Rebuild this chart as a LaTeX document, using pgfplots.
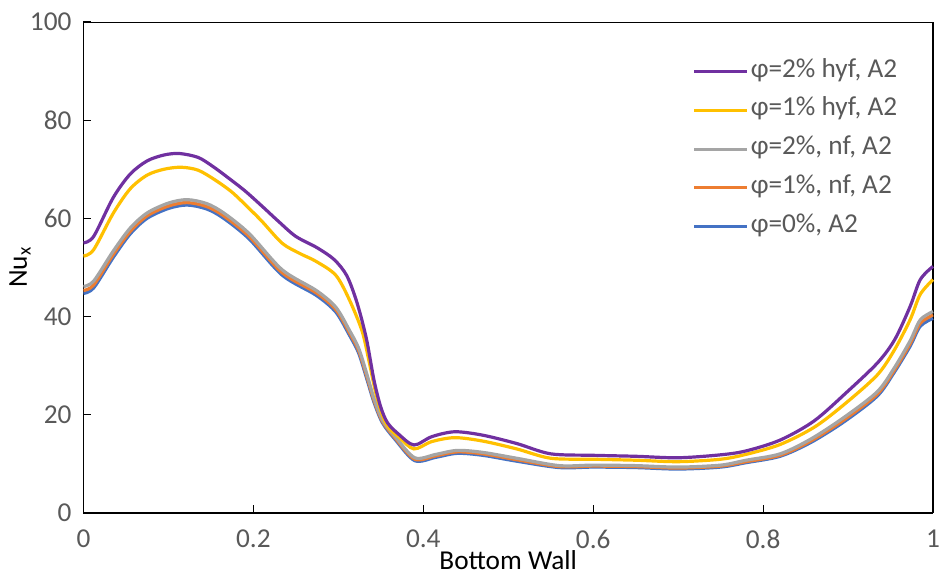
\documentclass[border=0pt]{standalone}
\usepackage{fontspec}
\setmainfont{Carlito}
\usepackage{pgfplots}
\pgfplotsset{compat=1.18}
\definecolor{cPurple}{HTML}{7030A0}
\definecolor{cYellow}{HTML}{FFC000}
\definecolor{cGray}{HTML}{A5A5A5}
\definecolor{cOrange}{HTML}{ED7D31}
\definecolor{cBlue}{HTML}{4472C4}
\definecolor{txtgray}{HTML}{595959}
\begin{document}
\begin{tikzpicture}
\begin{axis}[
  scale only axis,
  width=850bp, height=491bp,
  xmin=0, xmax=1, ymin=0, ymax=100,
  xtick={0,0.2,0.4,0.6,0.8,1},
  ytick={0,20,40,60,80,100},
  axis x line*=bottom,
  axis y line*=box,
  ytick pos=left,
  xtick pos=bottom,
  tick align=inside,
  major tick length=8bp,
  every tick/.style={black, line width=1bp},
  axis line style={black, line width=1.6bp},
  /pgf/number format/assume math mode=true,
  ticklabel style={font=\fontsize{27.3bp}{32bp}\selectfont, text=txtgray},
  yticklabel style={xshift=-8.5bp},
  xticklabel style={yshift=-13.5bp},
  every axis x label/.style={at={(rel axis cs:0.5,0)}, anchor=center, yshift=-47bp},
  every axis y label/.style={at={(rel axis cs:0,0.5)}, xshift=-63.5bp, anchor=center, rotate=90},
  label style={font=\fontsize{27.3bp}{32bp}\selectfont, text=black},
  xlabel={Bottom Wall},
  ylabel={Nu\textsubscript{x}},
  reverse legend,
  legend image code/.code={\draw[#1, line width=3.2bp] (0bp,0bp) -- (53bp,0bp);},
  legend style={draw=none, fill=none, at={(rel axis cs:0.717,0.926)}, anchor=north west,
    font=\fontsize{27.3bp}{32bp}\selectfont, text=txtgray, inner sep=0pt, outer sep=0pt,
    row sep=11.7bp,
    nodes={inner sep=2bp, text height=17bp, text depth=6bp},
    cells={anchor=west}},
  every axis plot/.append style={smooth, tension=0.5, line width=3.2bp},
  clip=false,
]
\coordinate (sw) at (rel axis cs:0,0);
\coordinate (ne) at (rel axis cs:1,1);
% phi=0%
\addplot[cBlue] coordinates {
(0,44.7) (0.012,45.8) (0.035,52.0) (0.055,56.8) (0.075,60.0) (0.1,62.0) (0.122,62.7)
(0.145,61.9) (0.165,60.0) (0.195,55.8) (0.234,48.4) (0.274,44.3) (0.297,40.9)
(0.313,36.2) (0.324,32.5) (0.334,27.0) (0.342,22.5) (0.352,18.3) (0.367,14.9)
(0.39,10.6) (0.415,11.3) (0.44,12.1) (0.47,11.7) (0.51,10.5) (0.56,9.2) (0.6,9.3)
(0.65,9.2) (0.7,8.9) (0.75,9.3) (0.78,10.2) (0.82,11.5) (0.856,14.3) (0.895,18.5)
(0.934,23.7) (0.954,28.5) (0.973,33.9) (0.985,38.0) (1.0,39.6)
};
\addlegendentry{φ=0\%, A2}
% phi=1% nf
\addplot[cOrange] coordinates {
(0,45.3) (0.012,46.4) (0.035,52.6) (0.055,57.3) (0.075,60.5) (0.1,62.5) (0.122,63.2)
(0.145,62.4) (0.165,60.5) (0.195,56.3) (0.234,48.9) (0.274,44.8) (0.297,41.4)
(0.313,36.7) (0.324,33.0) (0.334,27.5) (0.342,22.9) (0.352,18.6) (0.367,15.2)
(0.39,10.9) (0.415,11.6) (0.44,12.4) (0.47,12.0) (0.51,10.8) (0.56,9.4) (0.6,9.5)
(0.65,9.4) (0.7,9.1) (0.75,9.5) (0.78,10.4) (0.82,11.7) (0.856,14.6) (0.895,18.9)
(0.934,24.1) (0.954,28.9) (0.973,34.4) (0.985,38.6) (1.0,40.3)
};
\addlegendentry{φ=1\%, nf, A2}
% phi=2% nf
\addplot[cGray] coordinates {
(0,46.1) (0.012,47.2) (0.035,53.3) (0.055,58.0) (0.075,61.1) (0.1,63.1) (0.122,63.8)
(0.145,63.0) (0.165,61.1) (0.195,56.9) (0.234,49.5) (0.274,45.3) (0.297,41.9)
(0.313,37.2) (0.324,33.5) (0.334,28.0) (0.342,23.3) (0.352,18.9) (0.367,15.5)
(0.39,11.2) (0.415,11.9) (0.44,12.7) (0.47,12.3) (0.51,11.1) (0.56,9.6) (0.6,9.7)
(0.65,9.6) (0.7,9.3) (0.75,9.7) (0.78,10.7) (0.82,12.0) (0.856,15.0) (0.895,19.4)
(0.934,24.6) (0.954,29.4) (0.973,35.0) (0.985,39.3) (1.0,41.0)
};
\addlegendentry{φ=2\%, nf, A2}
% phi=1% hyf
\addplot[cYellow] coordinates {
(0,52.3) (0.012,53.6) (0.035,61.0) (0.055,66.0) (0.075,68.8) (0.095,70.0) (0.115,70.4)
(0.135,69.8) (0.155,67.8) (0.175,65.3) (0.195,62.0) (0.21,59.4) (0.234,54.9) (0.255,52.8)
(0.274,51.2) (0.297,48.4) (0.313,43.4) (0.328,37.0) (0.336,31.0) (0.344,24.5)
(0.352,19.8) (0.36,17.2) (0.372,15.3) (0.389,13.0) (0.41,14.5) (0.437,15.3) (0.47,14.6)
(0.51,13.0) (0.55,11.1) (0.6,10.9) (0.65,10.7) (0.7,10.4) (0.75,10.9) (0.78,11.9)
(0.82,13.9) (0.86,17.4) (0.895,22.0) (0.934,28.0) (0.954,33.0) (0.973,39.3)
(0.985,44.5) (1.0,47.5)
};
\addlegendentry{φ=1\% hyf, A2}
% phi=2% hyf
\addplot[cPurple] coordinates {
(0,55.0) (0.012,56.3) (0.035,64.2) (0.055,69.0) (0.075,71.7) (0.095,72.9) (0.113,73.2)
(0.135,72.4) (0.152,70.6) (0.17,68.3) (0.19,65.6) (0.21,62.5) (0.23,59.3) (0.25,56.3)
(0.275,54.0) (0.295,51.6) (0.31,48.3) (0.322,42.8) (0.333,35.5) (0.342,27.0)
(0.35,21.5) (0.358,18.3) (0.371,16.0) (0.389,13.8) (0.41,15.5) (0.437,16.5) (0.47,15.8)
(0.51,14.1) (0.55,12.0) (0.6,11.7) (0.65,11.5) (0.7,11.2) (0.75,11.8) (0.78,12.6)
(0.82,14.8) (0.86,18.7) (0.9,24.8) (0.935,30.6) (0.955,35.3) (0.973,42.0)
(0.985,47.5) (1.0,50.2)
};
\addlegendentry{φ=2\% hyf, A2}
\draw[black, line width=0.8bp] (rel axis cs:0,1) -- (rel axis cs:1,1);
\end{axis}
\pgfresetboundingbox
\path[use as bounding box] (sw) ++(-83.5bp,-63bp) rectangle ([shift={(6bp,22bp)}]ne);
\end{tikzpicture}
\end{document}
